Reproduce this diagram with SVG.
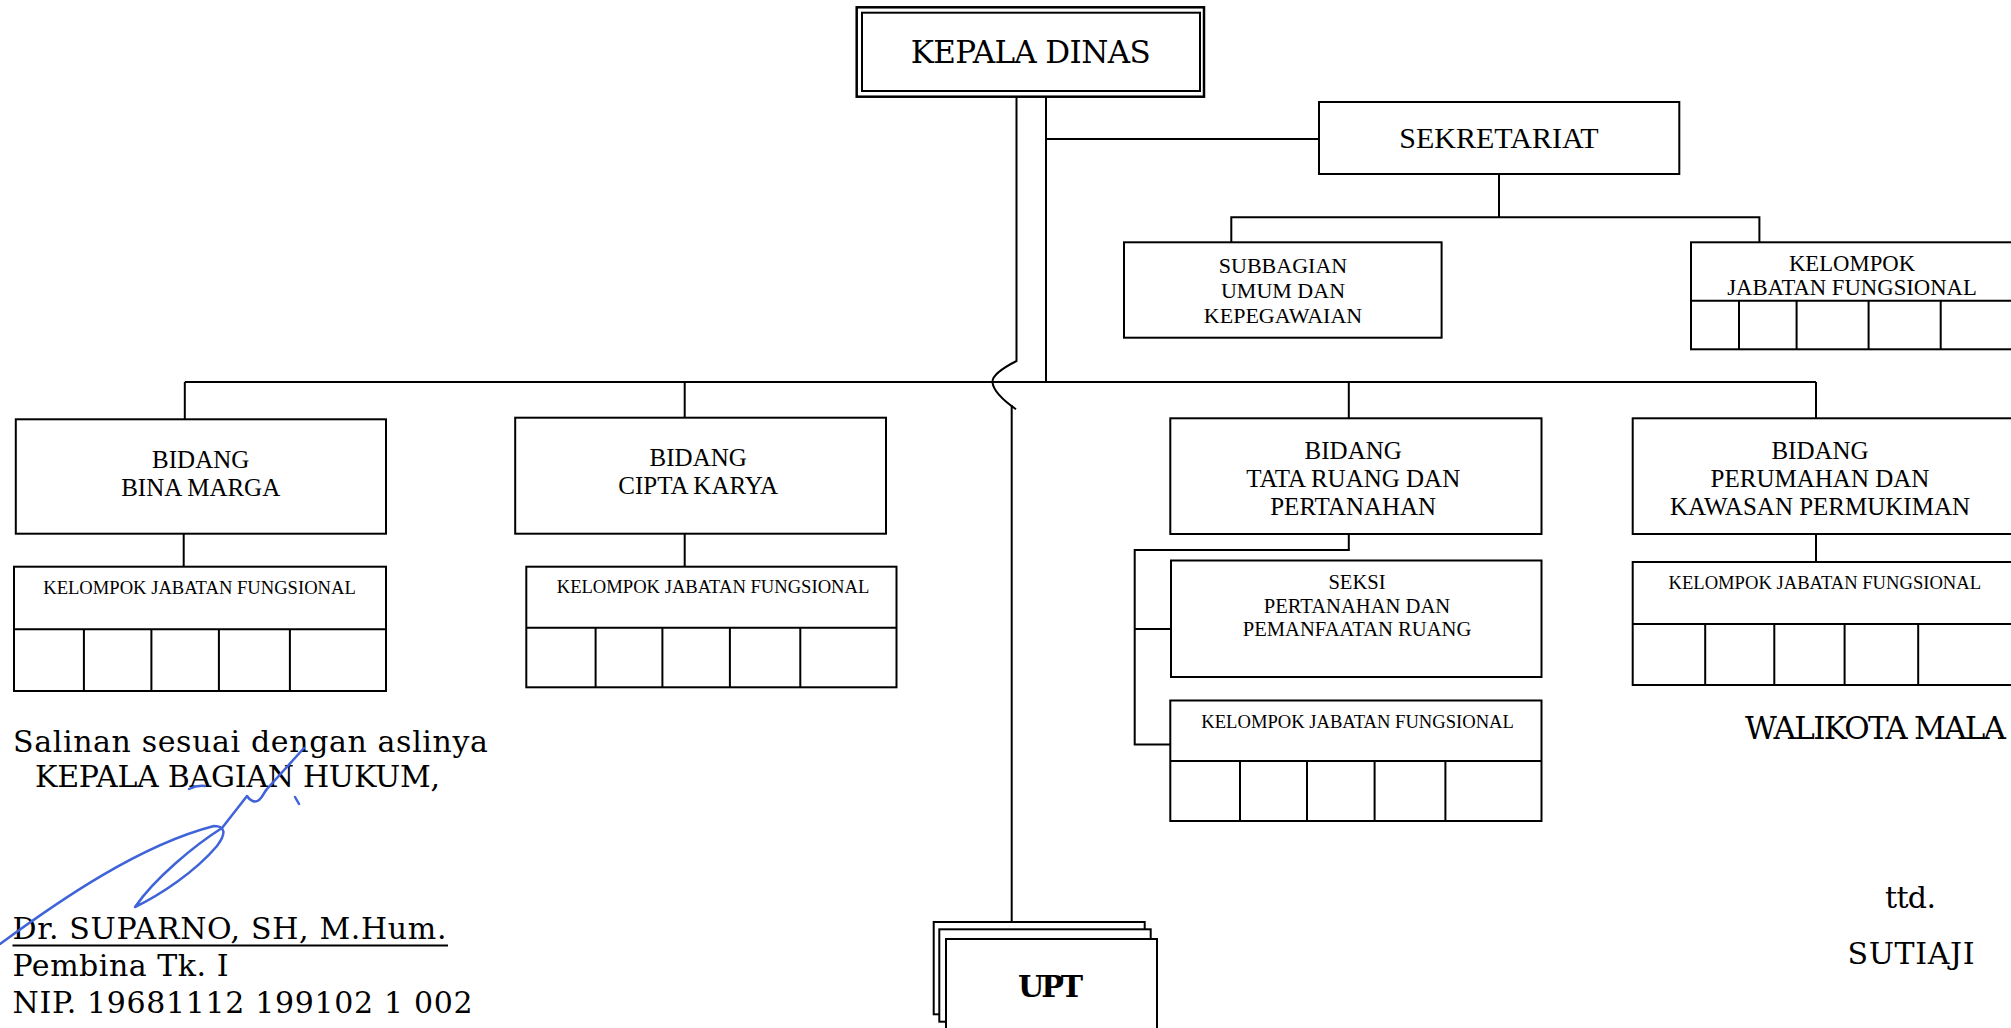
<svg xmlns="http://www.w3.org/2000/svg" width="2011" height="1028" viewBox="0 0 2011 1028">
<style>
.box{fill:#fff;stroke:#000;stroke-width:2}
.ln{fill:none;stroke:#000;stroke-width:2}
.t{font-family:"Liberation Serif","Times New Roman",serif;text-anchor:middle;fill:#000}
.bk{font-family:"DejaVu Serif","Liberation Serif",serif;fill:#000}
.sig{fill:none;stroke:#3f63d8;stroke-width:2.5;stroke-linecap:round;stroke-linejoin:round}
</style>
<rect width="2011" height="1028" fill="#fff"/>

<g id="connectors">
  <path class="ln" d="M1016.5,96.7 L1016.5,361 Q991,374 992.5,382.7 Q994,394 1016,409.3"/>
  <line class="ln" x1="1011.7" y1="405" x2="1011.7" y2="922"/>
  <line class="ln" x1="1046" y1="96" x2="1046" y2="382"/>
  <line class="ln" x1="1046" y1="139" x2="1319" y2="139"/>
  <line class="ln" x1="184.8" y1="382" x2="1816" y2="382"/>
  <line class="ln" x1="1499" y1="174" x2="1499" y2="217.3"/>
  <polyline class="ln" points="1231.3,242.3 1231.3,217.3 1759.4,217.3 1759.4,246.7"/>
  <line class="ln" x1="184.8" y1="382" x2="184.8" y2="419.3"/>
  <line class="ln" x1="183.7" y1="533.7" x2="183.7" y2="566.7"/>
  <line class="ln" x1="684.7" y1="382" x2="684.7" y2="417.7"/>
  <line class="ln" x1="684.7" y1="533.7" x2="684.7" y2="566.7"/>
  <line class="ln" x1="1348.8" y1="382" x2="1348.8" y2="418.3"/>
  <polyline class="ln" points="1348.8,534 1348.8,550 1134.7,550 1134.7,744.5 1170.3,744.5"/>
  <line class="ln" x1="1134.7" y1="629" x2="1171" y2="629"/>
  <line class="ln" x1="1816" y1="382" x2="1816" y2="418.3"/>
  <line class="ln" x1="1816" y1="534" x2="1816" y2="562"/>
</g>

<g id="kepala-dinas">
  <rect x="856.7" y="7.3" width="347.3" height="89.4" fill="#fff" stroke="#000" stroke-width="2.5"/>
  <rect x="862" y="12.7" width="338" height="78.3" fill="none" stroke="#000" stroke-width="2"/>
  <text class="bk" x="1030.7" y="63" font-size="31" text-anchor="middle" textLength="240">KEPALA DINAS</text>
</g>

<g id="sekretariat">
  <rect class="box" x="1319" y="102" width="360.3" height="72"/>
  <text class="t" x="1499" y="147.7" font-size="30">SEKRETARIAT</text>
</g>

<g id="subbagian-umum">
  <rect class="box" x="1124" y="242.3" width="317.6" height="95.4"/>
  <text class="t" font-size="22"><tspan x="1283" y="272.7">SUBBAGIAN</tspan><tspan x="1283" y="298">UMUM DAN</tspan><tspan x="1283" y="322.7">KEPEGAWAIAN</tspan></text>
</g>

<g id="kjf-sekretariat">
  <rect class="box" x="1691" y="242.3" width="340" height="107"/>
  <path class="ln" d="M1691,300.7 H2031 M1739,300.7 V349.3 M1796.6,300.7 V349.3 M1868.6,300.7 V349.3 M1940.7,300.7 V349.3"/>
  <text class="t" font-size="22.7"><tspan x="1852" y="270.7">KELOMPOK</tspan><tspan x="1852" y="295">JABATAN FUNGSIONAL</tspan></text>
</g>

<g id="bidang-bina-marga">
  <rect class="box" x="15.8" y="419.3" width="370.2" height="114.4"/>
  <text class="t" font-size="25"><tspan x="200.7" y="468.3">BIDANG</tspan><tspan x="200.7" y="496">BINA MARGA</tspan></text>
</g>
<g id="kjf-bina-marga">
  <rect class="box" x="14" y="566.7" width="372" height="124.3"/>
  <path class="ln" d="M14,629.3 H386 M83.9,629.3 V691 M151.4,629.3 V691 M218.9,629.3 V691 M289.9,629.3 V691"/>
  <text class="t" x="199.5" y="594.3" font-size="18.6">KELOMPOK JABATAN FUNGSIONAL</text>
</g>

<g id="bidang-cipta-karya">
  <rect class="box" x="515.2" y="417.7" width="370.8" height="116"/>
  <text class="t" font-size="25"><tspan x="698.2" y="466">BIDANG</tspan><tspan x="698.2" y="494.3">CIPTA KARYA</tspan></text>
</g>
<g id="kjf-cipta-karya">
  <rect class="box" x="526.3" y="566.7" width="370.2" height="120.6"/>
  <path class="ln" d="M526.3,627.7 H896.5 M595.6,627.7 V687.3 M662.4,627.7 V687.3 M729.9,627.7 V687.3 M800.3,627.7 V687.3"/>
  <text class="t" x="713" y="593.3" font-size="18.6">KELOMPOK JABATAN FUNGSIONAL</text>
</g>

<g id="bidang-tata-ruang">
  <rect class="box" x="1170.3" y="418.3" width="371.2" height="115.7"/>
  <text class="t" font-size="25"><tspan x="1353.2" y="459.3">BIDANG</tspan><tspan x="1353.2" y="487.3">TATA RUANG DAN</tspan><tspan x="1353.2" y="515">PERTANAHAN</tspan></text>
</g>
<g id="seksi-pertanahan">
  <rect class="box" x="1171" y="560.5" width="370.5" height="116.5"/>
  <text class="t" font-size="20.6"><tspan x="1357" y="589.3">SEKSI</tspan><tspan x="1357" y="612.7">PERTANAHAN DAN</tspan><tspan x="1357" y="635.7">PEMANFAATAN RUANG</tspan></text>
</g>
<g id="kjf-tata-ruang">
  <rect class="box" x="1170.3" y="700.5" width="371.2" height="120.5"/>
  <path class="ln" d="M1170.3,761 H1541.5 M1240,761 V821 M1307,761 V821 M1374.6,761 V821 M1445.4,761 V821"/>
  <text class="t" x="1357.6" y="728.3" font-size="18.6">KELOMPOK JABATAN FUNGSIONAL</text>
</g>

<g id="bidang-perumahan">
  <rect class="box" x="1632.7" y="418.3" width="400" height="115.7"/>
  <text class="t" font-size="25"><tspan x="1820" y="459.3">BIDANG</tspan><tspan x="1820" y="487.3">PERUMAHAN DAN</tspan><tspan x="1820" y="515">KAWASAN PERMUKIMAN</tspan></text>
</g>
<g id="kjf-perumahan">
  <rect class="box" x="1632.7" y="562" width="400" height="123"/>
  <path class="ln" d="M1632.7,624 H2032 M1705.2,624 V685 M1774.3,624 V685 M1844.6,624 V685 M1918.2,624 V685"/>
  <text class="t" x="1824.8" y="589" font-size="18.6">KELOMPOK JABATAN FUNGSIONAL</text>
</g>

<g id="upt">
  <rect class="box" x="933.7" y="922" width="211" height="92.3"/>
  <rect class="box" x="939.3" y="929.3" width="211.4" height="92.4"/>
  <rect class="box" x="946" y="939" width="211" height="100"/>
  <text class="bk" x="1050.5" y="996.7" font-size="30" font-weight="bold" text-anchor="middle" textLength="65">UPT</text>
</g>

<g id="pengesahan-kiri">
  <text class="bk" x="13" y="751.7" font-size="30" textLength="475">Salinan sesuai dengan aslinya</text>
  <text class="bk" x="35" y="787" font-size="30" textLength="405">KEPALA BAGIAN HUKUM,</text>
  <text class="bk" x="12.5" y="939.3" font-size="30" textLength="434">Dr. SUPARNO, SH, M.Hum.</text>
  <line x1="12.5" y1="945.5" x2="448" y2="945.5" stroke="#000" stroke-width="2"/>
  <text class="bk" x="12.5" y="976" font-size="30" textLength="216">Pembina Tk. I</text>
  <text class="bk" x="12.5" y="1013.3" font-size="30" textLength="460">NIP. 19681112 199102 1 002</text>
  <path class="sig" d="M0,944 C60,900 140,845 214,826 C226,826 226,834 217,846 C195,872 160,895 135,907 C155,878 195,845 222,828 L247,796 C250,801 255,803 259,800 C263,797 264,792 267,789 L304,748"/>
  <path class="sig" d="M189,789 Q197,785 205,786"/>
  <path class="sig" d="M295,797 L299,804"/>
</g>

<g id="pengesahan-kanan">
  <text class="bk" x="1745" y="739.3" font-size="31" textLength="261">WALIKOTA MALA</text>
  <text class="bk" x="1910.5" y="908.3" font-size="30" text-anchor="middle" textLength="51">ttd.</text>
  <text class="bk" x="1911" y="964.3" font-size="30" text-anchor="middle" textLength="127">SUTIAJI</text>
</g>
</svg>
